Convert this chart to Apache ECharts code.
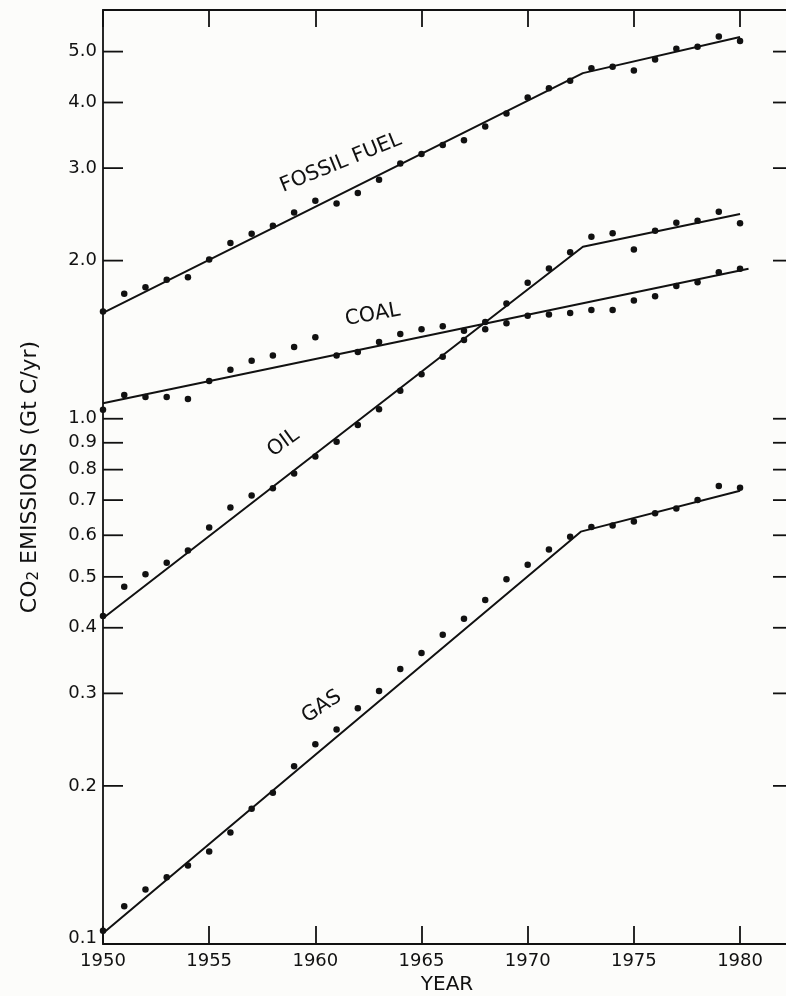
<!DOCTYPE html>
<html>
<head>
<meta charset="utf-8">
<script src="https://cdn.jsdelivr.net/npm/echarts@6/dist/echarts.min.js"></script>
<style>
  html, body { margin: 0; padding: 0; background: #fcfcfa; }
  #chart { width: 786px; height: 996px; }
</style>
</head>
<body>
<div id="chart"></div>
<script>
// ---------------- data ----------------
const years = [1950,1951,1952,1953,1954,1955,1956,1957,1958,1959,1960,1961,1962,1963,1964,1965,1966,1967,1968,1969,1970,1971,1972,1973,1974,1975,1976,1977,1978,1979,1980];

const fossilFuel = [1.60,1.73,1.78,1.84,1.86,2.01,2.16,2.25,2.33,2.47,2.60,2.57,2.69,2.85,3.06,3.19,3.32,3.39,3.60,3.81,4.09,4.26,4.40,4.65,4.68,4.60,4.83,5.06,5.11,5.34,5.24];
const coal       = [1.04,1.11,1.10,1.10,1.09,1.18,1.24,1.29,1.32,1.37,1.43,1.32,1.34,1.40,1.45,1.48,1.50,1.47,1.48,1.52,1.57,1.58,1.59,1.61,1.61,1.68,1.71,1.79,1.82,1.90,1.93];
const oil        = [0.421,0.479,0.506,0.532,0.561,0.621,0.678,0.714,0.737,0.787,0.847,0.904,0.973,1.042,1.130,1.215,1.312,1.412,1.528,1.657,1.815,1.933,2.074,2.221,2.254,2.101,2.280,2.361,2.382,2.478,2.355];
const gas        = [0.106,0.118,0.127,0.134,0.141,0.150,0.163,0.181,0.194,0.218,0.240,0.256,0.281,0.303,0.334,0.358,0.388,0.416,0.452,0.495,0.527,0.564,0.596,0.622,0.626,0.637,0.661,0.675,0.700,0.745,0.739];

// fitted trend lines (break points)
const fossilFitYears = [1950, 1972.6, 1980];
const fossilFitValues = [1.59, 4.55, 5.33];
const coalFitYears = [1950, 1980.4];
const coalFitValues = [1.07, 1.93];
const oilFitYears = [1950, 1972.6, 1980];
const oilFitValues = [0.417, 2.125, 2.453];
const gasFitYears = [1950, 1972.5, 1980];
const gasFitValues = [0.1048, 0.6096, 0.7294];

// tick labels
const xTickValues = [1950, 1955, 1960, 1965, 1970, 1975, 1980];
const yTickValues = [0.1,0.2,0.3,0.4,0.5,0.6,0.7,0.8,0.9,1.0,2.0,3.0,4.0,5.0];
const yTickLabels = ['0.1','0.2','0.3','0.4','0.5','0.6','0.7','0.8','0.9','1.0','2.0','3.0','4.0','5.0'];

// curve annotations
const labelNames  = ['FOSSIL FUEL', 'COAL', 'OIL', 'GAS'];
const labelYears  = [1961.2, 1962.7, 1958.5, 1960.3];
const labelValues = [3.07, 1.576, 0.900, 0.283];
const labelAngles = [22, 10, 36, 34];

// ---------------- style ----------------
const INK = '#111111';
const FONT = '"DejaVu Sans", "Liberation Sans", Arial, sans-serif';
const X_MIN = 1950, X_MAX = 1982.4, Y_MIN = 0.1, Y_MAX = 6;

const pairs = (xs, ys) => xs.map((x, i) => [x, ys[i]]);

function dotSeries(name, vals) {
  return {
    name, type: 'scatter', data: pairs(years, vals),
    symbol: 'circle', symbolSize: 6.5,
    itemStyle: { color: INK, opacity: 1 }, z: 4, silent: true
  };
}
function fitSeries(name, xs, ys) {
  return {
    name, type: 'line', data: pairs(xs, ys),
    showSymbol: false, symbol: 'none',
    lineStyle: { color: INK, width: 2 }, z: 3, silent: true
  };
}

function renderYTick(params, api) {
  const idx = params.dataIndex;
  const p = api.coord([api.value(0), api.value(1)]);
  const cs = params.coordSys;
  const right = cs.x + cs.width;
  const dy = (api.value(1) === Y_MIN) ? -6 : 0;
  return {
    type: 'group',
    children: [
      { type: 'line', shape: { x1: cs.x, y1: p[1], x2: cs.x + 20, y2: p[1] },
        style: { stroke: INK, lineWidth: 1.8 } },
      { type: 'line', shape: { x1: right - 18, y1: p[1], x2: right, y2: p[1] },
        style: { stroke: INK, lineWidth: 1.8 } },
      { type: 'text', x: cs.x - 6, y: p[1] + dy,
        style: { text: yTickLabels[idx], fill: INK, fontSize: 18, fontFamily: FONT,
                 align: 'right', verticalAlign: 'middle' } }
    ]
  };
}

function renderAnnotation(params, api) {
  const idx = params.dataIndex;
  const p = api.coord([api.value(0), api.value(1)]);
  return {
    type: 'text', x: p[0], y: p[1],
    rotation: labelAngles[idx] * Math.PI / 180,
    style: { text: labelNames[idx], fill: INK, fontSize: 20.5, fontFamily: FONT,
             align: 'center', verticalAlign: 'middle' }
  };
}

const chart = echarts.init(document.getElementById('chart'), null, { renderer: 'canvas' });

chart.setOption({
  animation: false,
  backgroundColor: '#fcfcfa',
  grid: {
    show: true, left: 103, top: 10, width: 688, height: 934,
    borderColor: INK, borderWidth: 1.8, backgroundColor: 'transparent',
    containLabel: false, outerBoundsMode: 'none'
  },
  xAxis: [
    {
      type: 'value', position: 'bottom', min: X_MIN, max: X_MAX, interval: 5,
      name: 'YEAR', nameLocation: 'middle', nameGap: 29,
      nameTextStyle: { color: INK, fontSize: 20, fontFamily: FONT },
      axisLine: { show: false },
      axisTick: { show: true, inside: true, length: 18, lineStyle: { color: INK, width: 1.8 } },
      axisLabel: {
        color: INK, fontSize: 18, fontFamily: FONT, margin: 8,
        formatter: v => (xTickValues.indexOf(v) >= 0 ? String(v) : '')
      },
      splitLine: { show: false }
    },
    {
      type: 'value', position: 'top', min: X_MIN, max: X_MAX, interval: 5,
      axisLine: { show: false },
      axisTick: { show: true, inside: true, length: 17, lineStyle: { color: INK, width: 1.8 } },
      axisLabel: { show: false },
      splitLine: { show: false }
    }
  ],
  yAxis: {
    type: 'log', logBase: 10, min: Y_MIN, max: Y_MAX,
    name: '{a|CO}{s|2}{a| EMISSIONS (Gt C/yr)}',
    nameLocation: 'middle', nameRotate: 90, nameGap: 61,
    nameTextStyle: {
      color: INK,
      rich: {
        a: { fontSize: 22, fontFamily: FONT, color: INK, lineHeight: 23, verticalAlign: 'top' },
        s: { fontSize: 15, fontFamily: FONT, color: INK, lineHeight: 15, verticalAlign: 'bottom', padding: [11, 0, 0, 0] }
      }
    },
    axisLine: { show: false },
    axisTick: { show: false },
    axisLabel: { show: false },
    splitLine: { show: false },
    minorTick: { show: false }
  },
  series: [
    fitSeries('Fossil fuel fit', fossilFitYears, fossilFitValues),
    fitSeries('Coal fit', coalFitYears, coalFitValues),
    fitSeries('Oil fit', oilFitYears, oilFitValues),
    fitSeries('Gas fit', gasFitYears, gasFitValues),
    dotSeries('Fossil fuel', fossilFuel),
    dotSeries('Coal', coal),
    dotSeries('Oil', oil),
    dotSeries('Gas', gas),
    {
      name: 'y ticks', type: 'custom', clip: false, silent: true, z: 5,
      data: yTickValues.map(v => [X_MIN, v]),
      renderItem: renderYTick
    },
    {
      name: 'labels', type: 'custom', clip: false, silent: true, z: 5,
      data: pairs(labelYears, labelValues),
      renderItem: renderAnnotation
    }
  ]
});
</script>
</body>
</html>
